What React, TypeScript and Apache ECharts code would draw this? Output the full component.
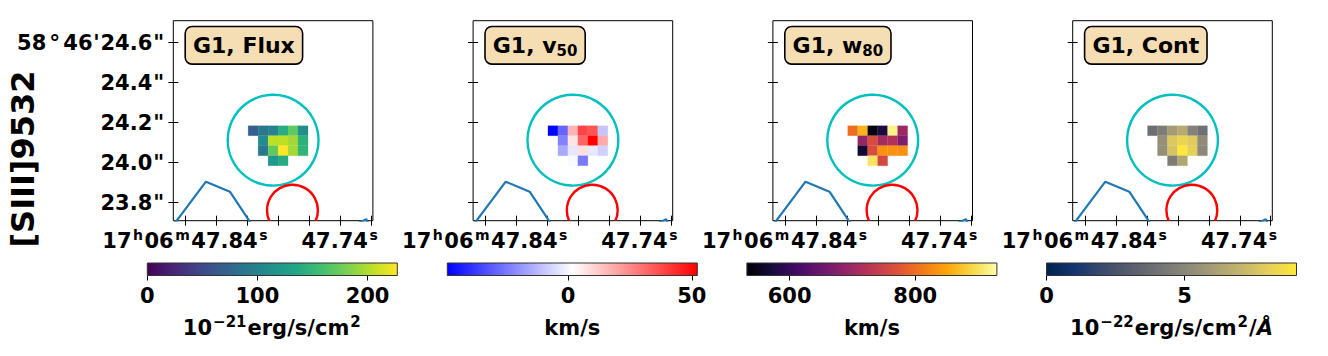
import React, { useEffect, useRef } from 'react';
import * as echarts from 'echarts';

const FONT = '"DejaVu Sans", Verdana, sans-serif';
const FS = 21;

// Cut-out pixel grid (pixel index coordinates)
const pixelCols = [8, 9, 10, 11, 12, 13];
const pixelRows = [9, 8, 7, 6];

const fluxMap = [
  [68, 91, 100, 140, 170, 113],
  [null, 107, 204, 205, 195, 145],
  [null, 91, 172, 227, 195, 147],
  [null, null, 120, 139, null, null],
];
const v50Map = [
  [-48, -29, 16.5, 38.8, 35.4, -10],
  [null, -23, 7, 32.4, 52, 18.5],
  [null, -15.5, -3.2, 7.9, -2.8, -7.6],
  [null, null, 0.3, -24.7, null, null],
];
const w80Map = [
  [799, 862, 540, 576, 918, 699],
  [null, 691, 763, 707, 719, 671],
  [null, 564, 763, 834, 834, 832],
  [null, null, 902, 759, null, null],
];
const contMap = [
  [3.9, 4.6, 6.0, 6.6, 4.8, 4.0],
  [null, 5.45, 7.8, 8.3, 7.9, 5.2],
  [null, 5.4, 7.6, 9.06, 8.1, 5.1],
  [null, null, 4.5, 6.4, null, null],
];
const maps = [fluxMap, v50Map, w80Map, contMap];

// Apertures and contours, in pixel coordinates
const cyanCircle = [10.0, 8.05, 4.55];
const redCircle = [11.94, 1.05, 2.55];
const contourA = [[0.0, -0.45], [3.27, 3.9], [5.67, 2.9], [7.9, -0.45]];
const contourB = [[18.0, -0.5], [19.35, 0.15], [19.6, -0.5]];

// WCS ticks (pixel positions) and labels
const raTickPos = [1.24, 4.34, 7.44, 10.54, 13.64, 16.74, 19.84];
const raLabelPos = [1.24, 16.74];
const raLabels = ['{a|17}{s|h}{a|06}{s|m}{a|47.84}{s|s}', '{a|47.74}{s|s}'];
const decTickPos = [1.8, 5.8, 9.8, 13.8, 17.8];
const decLabels = ['{a|23.8}{Q|"}', '{a|24.0}{Q|"}', '{a|24.2}{Q|"}', '{a|24.4}{Q|"}', '{a|58}{d|°}{a|46}{q|\'}{a|24.6}{Q|"}'];

// Titles
const panelTitles = ['{t|G1, Flux}', '{t|G1, v}{b|50}', '{t|G1, w}{b|80}', '{t|G1, Cont}'];
const rowLabel = '[SIII]9532';

// Colorbars
const cbMins = [0, -48.8, 532, 0];
const cbMaxs = [227, 52.2, 930, 9.06];
const cbTicks = [[0, 100, 200], [0, 50], [600, 800], [0, 5]];
const cbUnits = [
  '{n|10}{s|−21}{n|erg/s/cm}{s|2}',
  '{n|km/s}',
  '{n|km/s}',
  '{n|10}{s|−22}{n|erg/s/cm}{s|2}{n|/}{i|Å}',
];

// Colormaps
const viridis = ['#440154', '#482475', '#414487', '#355f8d', '#2a788e', '#21918c', '#22a884', '#44bf70', '#7ad151', '#bddf26', '#fde725'];
const bwr = ['#0000ff', '#ffffff', '#ff0000'];
const inferno = ['#000004', '#160b39', '#420a68', '#6a176e', '#932667', '#bc3754', '#dd513a', '#f37819', '#fca50a', '#f6d746', '#fcffa4'];
const cividis = ['#00224e', '#123570', '#3b496c', '#575d6d', '#707173', '#8a8779', '#a69d75', '#c4b56c', '#e4cf5b', '#fee838'];
const cmaps = [viridis, bwr, inferno, cividis];

const panelLefts = [173.3, 473.1, 772.9, 1072.7];
const cbLefts = [147.3, 447.3, 746.9, 1046.5];

function buildOption() {
  const grid: any[] = [];
  const xAxis: any[] = [];
  const yAxis: any[] = [];
  const series: any[] = [];
  const visualMap: any[] = [];
  const graphic: any[] = [];

  const tickStyle = { color: '#000', width: 1 };
  const base = { fontWeight: 'bold', fontFamily: FONT, color: '#000' };
  const xRich = {
    a: { ...base, fontSize: FS, lineHeight: 26 },
    s: { ...base, fontSize: 14, verticalAlign: 'top', lineHeight: 14, padding: [0, 1.5, 0, 1.5] },
  };
  const yRich = {
    a: { ...base, fontSize: FS, lineHeight: 24 },
    d: { ...base, fontSize: 22, lineHeight: 24, width: 17, align: 'center' },
    q: { ...base, fontSize: FS, lineHeight: 24, width: 8, align: 'center' },
    Q: { ...base, fontSize: FS, lineHeight: 24, width: 13, align: 'center' },
  };

  for (let i = 0; i < 4; i++) {
    const gi = grid.length;
    grid.push({ left: panelLefts[i], top: 20.7, width: 199.6, height: 200, show: true, borderColor: '#000', borderWidth: 1, backgroundColor: '#fff' });
    const xb = xAxis.length;
    xAxis.push({
      gridIndex: gi, type: 'value', min: 0, max: 20, position: 'bottom',
      axisLine: { show: false }, splitLine: { show: false },
      axisTick: { show: true, inside: false, length: 5, lineStyle: tickStyle, customValues: raTickPos },
      axisLabel: {
        show: true, customValues: raLabelPos, margin: 7,
        formatter: (v: number) => {
          const k = raLabelPos.findIndex((p) => Math.abs(p - v) < 1e-6);
          return k >= 0 ? raLabels[k] : '';
        },
        rich: xRich,
      },
    });
    xAxis.push({
      gridIndex: gi, type: 'value', min: 0, max: 20, position: 'top',
      axisLine: { show: false }, splitLine: { show: false },
      axisTick: { show: true, inside: false, length: 5, lineStyle: tickStyle, customValues: raTickPos },
      axisLabel: { show: false },
    });
    const yl = yAxis.length;
    yAxis.push({
      gridIndex: gi, type: 'value', min: 0, max: 20, position: 'left',
      axisLine: { show: false }, splitLine: { show: false },
      axisTick: { show: true, inside: false, length: 5, lineStyle: tickStyle, customValues: decTickPos },
      axisLabel: {
        show: i === 0, customValues: decTickPos, margin: 8,
        formatter: (v: number) => {
          const k = decTickPos.findIndex((p) => Math.abs(p - v) < 1e-6);
          return k >= 0 ? decLabels[k] : '';
        },
        rich: yRich,
      },
    });
    yAxis.push({
      gridIndex: gi, type: 'value', min: 0, max: 20, position: 'right',
      axisLine: { show: false }, splitLine: { show: false },
      axisTick: { show: true, inside: false, length: 5, lineStyle: tickStyle, customValues: decTickPos },
      axisLabel: { show: false },
    });

    const data: number[][] = [];
    maps[i].forEach((row, r) => row.forEach((v, c) => {
      if (v !== null) data.push([pixelCols[c], pixelRows[r], v as number]);
    }));
    const si = series.length;
    series.push({
      type: 'custom', xAxisIndex: xb, yAxisIndex: yl, clip: true, data,
      encode: { x: 0, y: 1 },
      renderItem: (params: any, api: any) => {
        const c = api.coord([api.value(0), api.value(1)]);
        const s = api.size([1, 1]);
        const col = api.visual('color');
        return { type: 'rect', shape: { x: c[0] - s[0] / 2, y: c[1] - s[1] / 2, width: s[0], height: s[1] }, style: { fill: col, stroke: col, lineWidth: 0.2 } };
      },
    });
    visualMap.push({
      type: 'continuous', show: false, seriesIndex: si, dimension: 2,
      min: cbMins[i], max: cbMaxs[i], inRange: { color: cmaps[i] },
    });

    const circ = (color: string, d: number[]) => ({
      type: 'custom', xAxisIndex: xb, yAxisIndex: yl, clip: true, data: [d],
      encode: { x: 0, y: 1 },
      renderItem: (params: any, api: any) => {
        const c = api.coord([api.value(0), api.value(1)]);
        const r = api.size([api.value(2), 0])[0];
        return { type: 'circle', shape: { cx: c[0], cy: c[1], r }, style: { fill: 'none', stroke: color, lineWidth: 2.4 } };
      },
    });
    series.push(circ('#00bfbf', cyanCircle));
    series.push(circ('#ff0000', redCircle));
    [contourA, contourB].forEach((ln) => series.push({
      type: 'line', xAxisIndex: xb, yAxisIndex: yl, data: ln, symbol: 'none', clip: true,
      lineStyle: { color: '#1f77b4', width: 2.2 }, silent: true,
    }));

    graphic.push({
      type: 'text', x: panelLefts[i] + 12.7, y: 27.3, z: 100,
      style: {
        text: panelTitles[i], align: 'left', verticalAlign: 'top',
        backgroundColor: '#f5deb3', borderColor: '#000', borderWidth: 1.6, borderRadius: 6,
        padding: [5, 7, 5, 7],
        rich: {
          t: { fontSize: 22, fontWeight: 'bold', fontFamily: FONT, fill: '#000', lineHeight: 26 },
          b: { fontSize: 15, fontWeight: 'bold', fontFamily: FONT, fill: '#000', verticalAlign: 'bottom', lineHeight: 16 },
        },
      },
    });
  }

  for (let i = 0; i < 4; i++) {
    const gi = grid.length;
    grid.push({ left: cbLefts[i], top: 263, width: 250, height: 12.5, show: false });
    const xi = xAxis.length;
    xAxis.push({
      gridIndex: gi, type: 'value', min: cbMins[i], max: cbMaxs[i], position: 'bottom',
      axisLine: { show: false }, splitLine: { show: false },
      axisTick: { show: true, inside: false, length: 5, lineStyle: tickStyle, customValues: cbTicks[i] },
      axisLabel: { show: true, customValues: cbTicks[i], margin: 10, fontSize: FS, fontWeight: 'bold', fontFamily: FONT, color: '#000' },
      name: cbUnits[i], nameLocation: 'middle', nameGap: 39,
      nameTextStyle: {
        rich: {
          n: { ...base, fontSize: FS, lineHeight: 26 },
          s: { ...base, fontSize: 15, verticalAlign: 'top', lineHeight: 15, padding: [0, 1, 0, 1] },
          i: { ...base, fontSize: FS, fontStyle: 'italic', lineHeight: 26 },
        },
      },
    });
    const yi = yAxis.length;
    yAxis.push({ gridIndex: gi, type: 'value', min: 0, max: 1, show: false });
    const stops = cmaps[i].map((c, k) => ({ offset: k / (cmaps[i].length - 1), color: c }));
    series.push({
      type: 'custom', xAxisIndex: xi, yAxisIndex: yi, data: [[cbMins[i], 0, cbMaxs[i]]],
      encode: { x: 0, y: 1 }, silent: true,
      renderItem: (params: any, api: any) => {
        const p0 = api.coord([api.value(0), 1]);
        const p1 = api.coord([api.value(2), 0]);
        return {
          type: 'rect', shape: { x: p0[0], y: p0[1], width: p1[0] - p0[0], height: p1[1] - p0[1] },
          style: { fill: new echarts.graphic.LinearGradient(0, 0, 1, 0, stops), stroke: '#333', lineWidth: 1 },
        };
      },
    });
  }

  graphic.push({
    type: 'text', x: 23, y: 159, rotation: Math.PI / 2,
    style: { text: rowLabel, font: `bold 32px ${FONT}`, fill: '#000', align: 'center', verticalAlign: 'middle' },
  });

  return {
    animation: false,
    backgroundColor: '#fff',
    textStyle: { fontFamily: FONT },
    grid, xAxis, yAxis, series, visualMap, graphic,
  };
}

export default function App() {
  const ref = useRef<HTMLDivElement>(null);
  useEffect(() => {
    const chart = echarts.init(ref.current as HTMLDivElement, null, { renderer: 'svg' });
    chart.setOption(buildOption() as any);
    return () => chart.dispose();
  }, []);
  return <div ref={ref} style={{ position: 'fixed', left: 0, top: 0, width: 1328, height: 356, background: '#fff' }} />;
}
